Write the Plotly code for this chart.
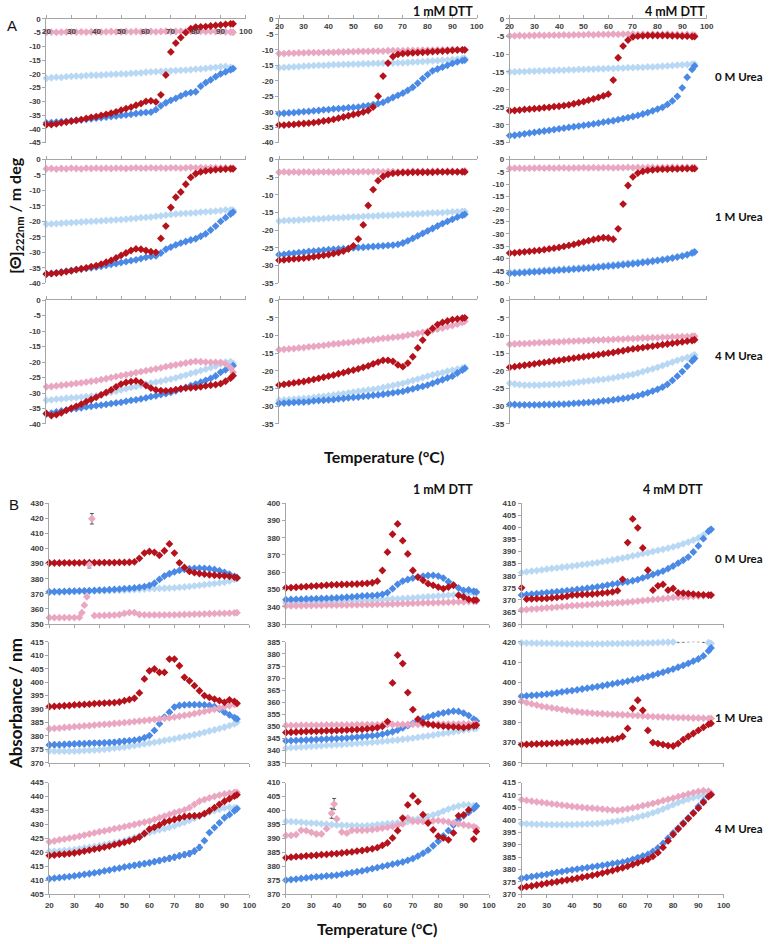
import plotly.graph_objects as go

W, H = 775, 944
T = [20,22,24,26,28,30,32,34,36,38,40,42,44,46,48,50,52,54,56,58,
     60,62,64,66,68,70,72,74,76,78,80,82,84,86,88,90,92,94,95]
X_TICKS = [20, 30, 40, 50, 60, 70, 80, 90, 100]

# ---------------- Panel A : CD [theta]222nm ----------------
A11_red = [-38.4,-38.4,-38.2,-37.8,-37.5,-37.2,-36.9,-36.6,-36.2,-35.8,-35.5,-35.1,-34.7,-34.3,-33.8,-33.2,-32.6,-32.1,-31.4,-30.8,-30.0,-29.8,-30.2,-27.6,-20.4,-12.0,-8.8,-6.8,-5.0,-3.6,-3.0,-2.9,-2.8,-2.6,-2.4,-2.2,-2.0,-1.8,-1.8]
A11_blue = [-37.8,-37.7,-37.5,-37.4,-37.3,-37.1,-36.9,-36.7,-36.5,-36.3,-36.1,-35.9,-35.7,-35.5,-35.3,-35.1,-34.9,-34.7,-34.4,-34.2,-34.0,-33.9,-33.0,-31.6,-30.5,-29.6,-28.9,-28.0,-27.2,-26.8,-26.5,-24.5,-23.2,-22.2,-21.0,-20.0,-19.3,-18.5,-18.1]
A11_lblue = [-21.6,-21.4,-21.2,-21.3,-21.0,-20.9,-20.8,-20.8,-20.6,-20.5,-20.5,-20.4,-20.3,-20.2,-20.1,-20.0,-20.0,-19.8,-19.7,-19.6,-19.4,-19.3,-19.2,-19.1,-19.0,-18.9,-18.8,-18.7,-18.6,-18.5,-18.3,-18.2,-18.0,-17.8,-17.6,-17.4,-17.3,-17.6,-17.9]
A11_pink = [-4.9,-4.8,-4.9,-4.8,-4.8,-4.7,-4.8,-4.7,-4.8,-4.7,-4.7,-4.8,-4.7,-4.6,-4.7,-4.7,-4.6,-4.7,-4.6,-4.7,-4.6,-4.6,-4.7,-4.6,-4.5,-4.6,-4.6,-4.5,-4.6,-4.5,-4.6,-4.5,-4.6,-4.5,-4.6,-4.6,-4.7,-4.8,-4.9]

A12_red = [-34.3,-34.3,-34.2,-34.1,-33.9,-33.8,-33.7,-33.5,-33.3,-33.0,-32.8,-32.5,-32.1,-31.7,-31.3,-30.9,-30.6,-30.1,-29.6,-28.5,-25.0,-18.5,-14.3,-12.2,-11.5,-11.2,-11.1,-11.0,-10.9,-10.8,-10.7,-10.6,-10.5,-10.4,-10.3,-10.2,-10.1,-10.0,-10.0]
A12_blue = [-30.6,-30.5,-30.4,-30.3,-30.1,-30.0,-29.9,-29.7,-29.6,-29.4,-29.3,-29.1,-29.0,-28.9,-28.7,-28.6,-28.5,-28.2,-28.0,-27.7,-27.4,-27.0,-26.2,-25.4,-24.7,-24.0,-23.1,-22.1,-20.8,-19.3,-18.0,-16.8,-16.2,-15.6,-15.0,-14.4,-13.9,-13.5,-13.3]
A12_lblue = [-15.8,-15.7,-15.6,-15.5,-15.4,-15.3,-15.2,-15.1,-15.0,-15.0,-14.9,-14.8,-14.8,-14.7,-14.7,-14.6,-14.6,-14.5,-14.5,-14.4,-14.4,-14.3,-14.3,-14.3,-14.2,-14.2,-14.1,-14.0,-13.9,-13.8,-13.7,-13.6,-13.5,-13.4,-13.3,-13.1,-13.0,-12.8,-12.8]
A12_pink = [-11.2,-11.2,-11.1,-11.1,-11.0,-11.0,-10.9,-10.9,-10.9,-10.8,-10.8,-10.8,-10.7,-10.7,-10.6,-10.6,-10.5,-10.5,-10.5,-10.4,-10.4,-10.4,-10.3,-10.3,-10.3,-10.3,-10.2,-10.2,-10.2,-10.1,-10.1,-10.1,-10.0,-10.0,-10.0,-9.9,-9.9,-10.0,-10.1]

A13_red = [-26.0,-25.9,-25.8,-25.6,-25.5,-25.4,-25.3,-25.1,-25.0,-24.8,-24.7,-24.5,-24.3,-24.0,-23.7,-23.4,-23.0,-22.6,-22.2,-21.8,-21.3,-17.3,-11.0,-7.7,-6.0,-5.1,-4.9,-4.8,-4.7,-4.7,-4.7,-4.7,-4.7,-4.8,-4.8,-4.9,-4.9,-5.0,-5.0]
A13_blue = [-33.0,-32.9,-32.7,-32.5,-32.3,-32.1,-31.9,-31.7,-31.5,-31.3,-31.1,-30.9,-30.7,-30.5,-30.3,-30.1,-29.9,-29.7,-29.5,-29.2,-29.0,-28.8,-28.5,-28.2,-27.9,-27.6,-27.3,-26.9,-26.5,-26.0,-25.5,-25.0,-24.2,-23.2,-21.9,-19.5,-16.5,-14.3,-13.3]
A13_lblue = [-15.0,-15.0,-14.9,-14.9,-14.8,-14.8,-14.7,-14.7,-14.6,-14.6,-14.5,-14.5,-14.4,-14.4,-14.3,-14.3,-14.2,-14.2,-14.1,-14.1,-14.0,-14.0,-13.9,-13.9,-13.8,-13.8,-13.7,-13.7,-13.6,-13.6,-13.5,-13.4,-13.3,-13.2,-13.1,-13.0,-12.9,-12.8,-12.8]
A13_pink = [-4.8,-4.8,-4.7,-4.8,-4.7,-4.7,-4.6,-4.7,-4.6,-4.6,-4.6,-4.5,-4.6,-4.5,-4.5,-4.5,-4.4,-4.5,-4.4,-4.4,-4.4,-4.3,-4.4,-4.3,-4.3,-4.3,-4.4,-4.3,-4.4,-4.3,-4.4,-4.4,-4.3,-4.4,-4.4,-4.5,-4.4,-4.5,-4.6]

A21_red = [-37.0,-36.9,-36.7,-36.5,-36.2,-36.0,-35.6,-35.3,-35.0,-34.6,-34.3,-33.8,-33.2,-32.6,-31.8,-31.0,-30.2,-29.4,-28.9,-29.0,-29.4,-29.8,-30.0,-25.5,-21.5,-15.5,-12.2,-10.5,-8.0,-5.8,-4.6,-4.0,-3.7,-3.5,-3.3,-3.2,-3.1,-3.0,-3.0]
A21_blue = [-37.0,-36.8,-36.6,-36.3,-36.1,-35.8,-35.6,-35.4,-35.2,-35.0,-34.8,-34.5,-34.2,-33.9,-33.6,-33.3,-33.0,-32.7,-32.4,-32.0,-31.6,-31.3,-31.1,-30.2,-29.0,-28.3,-27.6,-27.0,-26.5,-26.0,-25.6,-24.8,-24.0,-22.8,-21.5,-20.0,-18.8,-17.6,-17.0]
A21_lblue = [-20.9,-20.8,-20.7,-20.6,-20.5,-20.4,-20.3,-20.2,-20.1,-20.0,-19.9,-19.8,-19.7,-19.6,-19.5,-19.4,-19.3,-19.1,-19.0,-18.8,-18.7,-18.6,-18.4,-18.2,-18.0,-17.8,-17.6,-17.5,-17.4,-17.3,-17.2,-17.0,-16.9,-16.8,-16.7,-16.5,-16.3,-16.3,-16.4]
A21_pink = [-3.0,-2.9,-3.1,-2.9,-3.0,-2.8,-2.9,-3.0,-2.8,-2.9,-2.8,-2.9,-2.8,-2.9,-2.8,-2.8,-2.9,-2.8,-2.7,-2.8,-2.8,-2.7,-2.8,-2.7,-2.8,-2.7,-2.7,-2.8,-2.7,-2.6,-2.7,-2.6,-2.7,-2.6,-2.6,-2.7,-2.6,-2.7,-2.8]

A22_red = [-28.5,-28.4,-28.2,-28.1,-28.0,-27.9,-27.7,-27.5,-27.3,-27.1,-26.9,-26.6,-26.3,-25.9,-25.3,-24.4,-22.5,-18.5,-13.0,-8.5,-6.0,-4.8,-4.2,-3.9,-3.8,-3.7,-3.7,-3.6,-3.6,-3.6,-3.6,-3.6,-3.5,-3.5,-3.5,-3.5,-3.5,-3.5,-3.5]
A22_blue = [-26.9,-26.8,-26.6,-26.5,-26.3,-26.2,-26.0,-25.9,-25.8,-25.6,-25.5,-25.4,-25.3,-25.2,-25.1,-25.0,-24.9,-24.8,-24.7,-24.6,-24.5,-24.4,-24.3,-24.2,-24.0,-23.6,-23.0,-22.3,-21.6,-20.9,-20.2,-19.5,-18.8,-18.1,-17.5,-16.9,-16.3,-15.8,-15.5]
A22_lblue = [-17.4,-17.3,-17.2,-17.2,-17.1,-17.0,-16.9,-16.8,-16.8,-16.7,-16.6,-16.5,-16.5,-16.4,-16.3,-16.2,-16.2,-16.1,-16.0,-16.0,-15.9,-15.8,-15.8,-15.7,-15.6,-15.6,-15.5,-15.4,-15.4,-15.3,-15.2,-15.1,-15.1,-15.0,-14.9,-14.8,-14.8,-14.7,-14.7]
A22_pink = [-3.6,-3.5,-3.6,-3.5,-3.6,-3.5,-3.5,-3.6,-3.5,-3.5,-3.5,-3.6,-3.5,-3.5,-3.4,-3.5,-3.5,-3.4,-3.5,-3.4,-3.4,-3.5,-3.4,-3.4,-3.5,-3.4,-3.4,-3.3,-3.4,-3.3,-3.4,-3.3,-3.3,-3.4,-3.3,-3.3,-3.4,-3.3,-3.2]

A23_red = [-37.8,-37.7,-37.5,-37.3,-37.1,-36.9,-36.7,-36.4,-36.1,-35.8,-35.5,-35.1,-34.7,-34.3,-33.8,-33.3,-32.8,-32.3,-31.9,-31.6,-31.7,-32.2,-28.0,-18.0,-10.5,-7.0,-5.5,-4.8,-4.4,-4.2,-4.0,-3.9,-3.9,-3.8,-3.8,-3.7,-3.7,-3.7,-3.7]
A23_blue = [-46.0,-45.9,-45.8,-45.7,-45.5,-45.4,-45.3,-45.1,-45.0,-44.9,-44.7,-44.6,-44.5,-44.3,-44.2,-44.0,-43.9,-43.7,-43.5,-43.3,-43.1,-42.9,-42.7,-42.5,-42.3,-42.1,-41.9,-41.6,-41.4,-41.1,-40.8,-40.5,-40.2,-39.8,-39.4,-39.0,-38.5,-37.8,-37.4]
A23_lblue = [-45.6,-45.5,-45.4,-45.3,-45.1,-45.0,-44.9,-44.7,-44.6,-44.5,-44.3,-44.2,-44.1,-43.9,-43.8,-43.6,-43.5,-43.3,-43.1,-42.9,-42.7,-42.5,-42.3,-42.1,-41.9,-41.7,-41.5,-41.3,-41.0,-40.8,-40.5,-40.2,-39.9,-39.6,-39.2,-38.8,-38.3,-37.6,-37.2]
A23_pink = [-3.6,-3.5,-3.5,-3.6,-3.5,-3.5,-3.4,-3.5,-3.4,-3.5,-3.4,-3.4,-3.5,-3.4,-3.4,-3.3,-3.4,-3.3,-3.4,-3.3,-3.3,-3.4,-3.3,-3.3,-3.2,-3.3,-3.2,-3.3,-3.2,-3.2,-3.3,-3.2,-3.2,-3.1,-3.2,-3.2,-3.1,-3.2,-3.2]

A31_red = [-36.6,-37.3,-37.0,-36.4,-35.6,-34.9,-34.3,-33.6,-32.8,-32.1,-31.4,-30.6,-29.8,-29.0,-28.0,-27.1,-26.6,-26.3,-26.1,-26.5,-27.6,-28.4,-29.0,-29.2,-29.3,-29.2,-28.9,-28.6,-28.4,-28.3,-28.2,-28.0,-27.7,-27.5,-27.3,-27.0,-26.2,-25.2,-24.4]
A31_blue = [-36.8,-36.5,-36.1,-35.8,-35.5,-35.2,-35.0,-34.8,-34.5,-34.3,-34.1,-33.9,-33.7,-33.4,-33.2,-33.0,-32.7,-32.4,-32.2,-31.9,-31.6,-31.2,-30.9,-30.5,-30.2,-29.8,-29.3,-28.7,-28.2,-27.6,-27.1,-26.5,-25.9,-25.3,-24.5,-23.3,-22.5,-21.7,-21.2]
A31_lblue = [-32.3,-32.2,-32.0,-31.9,-31.7,-31.6,-31.5,-31.3,-31.2,-31.0,-30.9,-30.5,-30.1,-29.8,-29.4,-29.0,-28.6,-28.2,-27.9,-27.5,-27.1,-26.8,-26.5,-26.2,-25.8,-25.5,-25.1,-24.6,-24.2,-23.7,-23.3,-22.8,-22.3,-21.8,-21.3,-20.6,-20.0,-19.9,-20.4]
A31_pink = [-28.0,-27.9,-27.7,-27.5,-27.3,-27.1,-26.9,-26.7,-26.5,-26.2,-26.0,-25.7,-25.4,-25.0,-24.7,-24.4,-24.1,-23.8,-23.4,-23.1,-22.8,-22.5,-22.2,-21.9,-21.5,-21.2,-20.9,-20.6,-20.3,-20.0,-19.8,-19.9,-20.0,-20.1,-20.1,-20.1,-20.6,-21.8,-23.3]

A32_red = [-24.0,-23.8,-23.6,-23.4,-23.2,-23.0,-22.7,-22.4,-22.1,-21.8,-21.5,-21.2,-20.8,-20.5,-20.1,-19.8,-19.4,-19.0,-18.6,-18.0,-17.5,-17.0,-17.0,-17.3,-18.3,-18.8,-17.8,-16.0,-13.5,-11.3,-9.2,-8.0,-6.9,-6.3,-5.9,-5.5,-5.3,-5.1,-5.0]
A32_blue = [-29.2,-29.1,-29.0,-28.9,-28.8,-28.8,-28.7,-28.5,-28.4,-28.3,-28.2,-28.1,-27.9,-27.8,-27.6,-27.5,-27.4,-27.2,-27.1,-26.9,-26.8,-26.6,-26.4,-26.2,-26.0,-25.8,-25.4,-25.1,-24.7,-24.4,-24.0,-23.5,-23.0,-22.5,-22.0,-21.5,-20.6,-19.8,-19.3]
A32_lblue = [-28.3,-28.2,-28.1,-28.0,-27.9,-27.8,-27.7,-27.5,-27.3,-27.2,-27.0,-26.8,-26.6,-26.4,-26.2,-26.0,-25.8,-25.6,-25.4,-25.2,-25.0,-24.7,-24.4,-24.1,-23.8,-23.5,-23.1,-22.7,-22.3,-21.9,-21.5,-21.1,-20.8,-20.5,-20.1,-19.8,-19.5,-19.2,-19.0]
A32_pink = [-14.0,-13.9,-13.8,-13.7,-13.5,-13.4,-13.2,-13.1,-12.9,-12.8,-12.6,-12.4,-12.3,-12.1,-12.0,-11.8,-11.6,-11.5,-11.3,-11.2,-11.0,-10.8,-10.7,-10.5,-10.4,-10.2,-9.9,-9.7,-9.4,-9.1,-8.8,-8.5,-8.2,-7.9,-7.5,-7.2,-6.8,-6.3,-6.0]

A33_red = [-19.0,-18.8,-18.6,-18.4,-18.2,-18.0,-17.8,-17.6,-17.4,-17.2,-17.0,-16.8,-16.6,-16.4,-16.2,-16.0,-15.8,-15.6,-15.4,-15.2,-15.0,-14.8,-14.5,-14.3,-14.0,-13.8,-13.6,-13.4,-13.2,-13.0,-12.8,-12.6,-12.4,-12.2,-12.0,-11.8,-11.6,-11.4,-11.2]
A33_blue = [-29.5,-29.5,-29.6,-29.6,-29.6,-29.6,-29.6,-29.5,-29.5,-29.5,-29.4,-29.4,-29.3,-29.2,-29.1,-29.0,-28.9,-28.8,-28.7,-28.5,-28.4,-28.2,-28.0,-27.8,-27.6,-27.3,-27.0,-26.6,-26.2,-25.7,-25.2,-24.6,-23.8,-22.7,-21.5,-20.2,-18.7,-17.2,-16.5]
A33_lblue = [-23.5,-23.7,-23.9,-24.0,-24.0,-24.0,-24.0,-23.9,-23.9,-23.8,-23.8,-23.6,-23.5,-23.3,-23.2,-23.0,-22.8,-22.7,-22.5,-22.4,-22.2,-22.0,-21.7,-21.5,-21.2,-21.0,-20.6,-20.2,-19.8,-19.4,-19.0,-18.5,-18.0,-17.5,-17.0,-16.6,-16.2,-15.8,-15.5]
A33_pink = [-12.5,-12.4,-12.3,-12.3,-12.2,-12.1,-12.0,-12.0,-11.9,-11.8,-11.8,-11.7,-11.6,-11.6,-11.5,-11.5,-11.4,-11.3,-11.3,-11.2,-11.2,-11.1,-11.0,-11.0,-10.9,-10.9,-10.8,-10.7,-10.7,-10.6,-10.6,-10.5,-10.5,-10.4,-10.4,-10.3,-10.3,-10.2,-10.2]

# ---------------- Panel B : fluorescence max (nm) ----------------
B11_red = [390.4,390.4,390.4,390.5,390.5,390.5,390.5,390.6,390.6,390.6,390.6,390.7,390.7,390.7,390.8,390.8,390.9,391.2,393.5,397.0,398.0,397.5,395.5,398.5,403.0,397.0,390.5,387.5,384.8,384.0,383.4,383.0,382.6,382.3,382.1,381.9,381.6,381.0,380.5]
B11_blue = [371.3,371.4,371.5,371.6,371.7,371.8,371.9,372.0,372.1,372.2,372.4,372.5,372.7,372.9,373.1,373.4,373.6,373.9,374.3,374.8,375.5,377.0,379.5,381.8,383.3,384.5,385.5,386.2,386.6,386.9,387.0,386.9,386.6,386.1,385.3,384.2,383.0,381.5,380.8]
B11_lblue = [371.0,371.1,371.2,371.3,371.4,371.5,371.6,371.7,371.8,371.9,372.0,372.1,372.2,372.3,372.3,372.4,372.6,372.8,373.0,373.2,373.4,373.5,373.6,373.7,373.8,374.0,374.2,374.5,374.8,375.2,375.6,376.0,376.4,376.8,377.2,377.6,378.5,379.5,380.0]
B11_pink = [354.2,354.2,354.2,354.3,354.3,354.3,354.4,None,None,355.5,355.6,355.7,355.8,355.9,356.2,357.0,357.6,357.6,356.3,356.1,356.0,356.0,356.0,356.0,356.1,356.1,356.2,356.3,356.4,356.5,356.6,356.7,356.8,356.9,357.0,357.1,357.2,357.4,357.5]
B11_spike_T = [33, 34, 35, 36, 37]
B11_spike_pink = [357.5, 362.5, 368.0, 389.3, 419.7]
B11_spike_err = [None, None, None, 2.2, 3.5]

B12_red = [351.0,351.1,351.3,351.5,351.7,351.9,352.1,352.3,352.5,352.7,352.8,352.9,353.0,353.1,353.2,353.4,353.6,353.9,354.8,361.0,371.6,382.0,388.0,378.3,370.6,361.0,357.2,355.3,353.4,352.4,351.4,350.5,351.4,352.4,346.6,345.7,344.3,343.8,343.8]
B12_blue = [344.1,344.2,344.3,344.4,344.5,344.6,344.7,344.8,344.9,345.0,345.1,345.3,345.5,345.7,346.0,346.3,346.4,346.5,346.7,347.2,348.2,350.5,353.0,354.8,355.8,356.6,357.2,357.7,358.1,358.2,357.8,356.6,354.5,352.6,350.9,349.5,349.7,349.0,348.6]
B12_lblue = [342.4,342.5,342.6,342.7,342.8,342.8,342.9,343.0,343.1,343.1,343.2,343.3,343.4,343.5,343.6,343.7,343.8,343.9,344.0,344.2,344.3,344.5,344.6,344.8,345.0,345.1,345.4,345.6,345.8,346.0,346.3,346.5,346.7,346.9,347.1,347.3,347.6,347.9,348.0]
B12_pink = [340.5,340.5,340.6,340.6,340.7,340.7,340.8,340.8,340.9,340.9,340.9,341.0,341.0,341.1,341.1,341.2,341.2,341.3,341.4,341.4,341.5,341.6,341.7,341.8,341.9,342.0,342.1,342.2,342.3,342.3,342.4,342.5,342.6,342.7,342.8,342.9,343.0,343.1,343.2]

B13_red = [375.0,370.3,370.4,370.5,370.5,370.6,370.8,371.0,371.2,371.5,372.0,372.1,372.2,372.3,372.4,372.6,372.8,373.0,373.3,373.8,378.5,393.7,403.5,399.8,391.5,382.3,374.0,375.8,376.4,374.0,374.7,372.9,372.8,372.6,372.4,372.2,372.1,372.0,372.0]
B13_blue = [372.0,372.2,372.4,372.6,372.8,373.0,373.2,373.4,373.6,373.8,374.0,374.3,374.5,374.8,375.1,375.4,375.7,376.1,376.5,376.8,377.2,377.5,377.9,378.4,379.1,379.8,380.5,381.2,381.9,382.9,384.0,385.2,386.4,387.7,389.8,392.3,395.3,398.3,399.2]
B13_lblue = [381.3,381.6,381.9,382.1,382.4,382.7,383.0,383.2,383.5,383.7,384.0,384.3,384.6,384.8,385.1,385.4,385.8,386.1,386.5,386.9,387.3,387.7,388.2,388.6,389.1,389.5,390.0,390.5,390.9,391.4,391.9,392.5,393.2,393.9,394.7,395.6,396.8,398.3,399.2]
B13_pink = [365.8,366.0,366.2,366.3,366.5,366.7,366.8,367.0,367.2,367.4,367.6,367.7,367.8,368.0,368.1,368.3,368.4,368.5,368.7,368.8,368.9,369.1,369.3,369.5,369.7,369.9,370.1,370.3,370.5,370.7,371.0,371.1,371.2,371.3,371.5,371.6,371.7,371.9,372.0]

B21_red = [390.9,391.0,391.1,391.2,391.3,391.5,391.6,391.7,391.8,392.0,392.1,392.2,392.3,392.4,392.6,393.1,393.5,394.0,396.0,401.2,404.2,404.9,403.6,403.6,408.6,408.6,406.1,401.8,400.5,398.7,396.8,395.0,394.3,393.7,393.1,392.5,393.4,392.8,392.1]
B21_blue = [376.6,376.7,376.7,376.8,376.9,377.0,377.1,377.1,377.2,377.3,377.3,377.4,377.5,377.6,377.8,378.0,378.2,378.4,378.7,379.3,380.1,382.0,384.5,387.0,388.8,390.7,391.3,391.5,391.6,391.6,391.6,391.5,391.3,390.9,390.0,388.8,387.8,386.8,386.3]
B21_lblue = [374.4,374.3,374.3,374.3,374.3,374.3,374.4,374.5,374.6,374.7,374.8,375.0,375.2,375.4,375.6,375.8,376.1,376.4,376.7,377.0,377.3,377.6,377.9,378.3,378.6,378.9,379.3,379.7,380.0,380.4,380.8,381.3,381.8,382.2,382.7,383.2,383.8,384.5,385.1]
B21_pink = [382.6,382.8,382.9,383.1,383.2,383.4,383.5,383.7,383.8,384.0,384.2,384.3,384.4,384.6,384.7,384.9,385.1,385.3,385.5,385.7,385.9,386.1,386.3,386.5,386.7,387.0,387.3,387.6,387.9,388.3,388.7,389.1,389.5,389.9,390.3,390.8,391.2,391.7,391.9]
B21_blue_err = [0.9,0.9,0.9,0.9,0.9,0.9,0.9,0.9,0.9,0.9,0.9,0.9,0.9,0.9,0.9,0.9,0.3,0.3,0.3,0.3,0.3,0.3,0.3,0.3,0.8,0.8,0.8,0.8,0.8,0.8,0.8,0.8,0.8,0.8,0.8,0.8,0.8,0.8,0.8]
B21_lblue_err = [0.6,0.6,0.6,0.6,0.6,0.6,0.6,0.6,0.6,0.6,0.6,0.3,0.3,0.3,0.3,0.3,0.3,0.3,0.3,0.3,0.3,0.3,0.3,0.3,0.3,0.3,0.7,0.7,0.7,0.7,0.7,0.7,0.7,0.7,0.7,0.7,0.7,0.7,0.7]

B22_red = [347.5,347.6,347.7,347.8,347.9,348.0,348.0,348.1,348.2,348.2,348.3,348.4,348.5,348.6,348.7,348.8,349.0,349.2,349.5,350.0,352.0,368.0,379.5,376.0,364.0,357.0,353.0,351.5,351.0,350.6,350.3,350.1,349.9,349.8,349.7,349.5,349.8,350.2,350.5]
B22_blue = [344.0,344.1,344.2,344.3,344.4,344.5,344.6,344.7,344.8,344.9,345.0,345.1,345.2,345.4,345.6,345.8,346.0,346.2,346.4,346.8,347.3,347.8,348.5,349.4,350.3,351.3,352.3,353.2,354.0,354.6,355.2,355.6,356.0,356.3,356.2,355.5,354.5,353.0,352.3]
B22_lblue = [341.0,341.2,341.3,341.5,341.6,341.8,341.9,342.0,342.2,342.3,342.4,342.5,342.7,342.8,343.0,343.1,343.3,343.4,343.6,343.8,344.0,344.2,344.4,344.7,344.9,345.2,345.5,345.8,346.1,346.4,346.8,347.1,347.4,347.8,348.1,348.5,348.8,349.1,349.3]
B22_pink = [350.4,350.4,350.4,350.5,350.5,350.5,350.5,350.5,350.6,350.6,350.6,350.6,350.6,350.6,350.7,350.7,350.7,350.7,350.7,350.7,350.8,350.8,350.8,350.8,350.8,350.9,350.9,350.9,350.9,350.9,351.0,351.0,351.0,351.0,351.0,351.1,351.1,351.1,351.1]
B22_blue_err = [None]*30 + [0.8,0.8,0.8,0.8,0.8,0.8,0.8,None,None]

B23_red = [369.0,369.1,369.2,369.3,369.4,369.5,369.6,369.7,369.8,370.0,370.2,370.4,370.5,370.6,370.8,371.0,371.2,371.4,371.6,372.0,373.0,377.0,387.0,391.0,386.0,376.0,370.0,369.5,369.0,368.5,368.3,369.5,371.5,373.0,374.5,376.0,377.5,379.0,379.5]
B23_blue = [393.0,393.2,393.4,393.6,393.8,394.0,394.3,394.7,395.2,395.5,395.8,396.2,396.6,397.0,397.4,397.8,398.2,398.7,399.1,399.6,400.0,400.5,401.1,401.6,402.2,402.8,403.5,404.2,404.9,405.7,406.5,407.4,408.3,409.3,410.4,411.5,413.0,415.5,417.0]
B23_lblue = [419.5,419.4,419.4,419.3,419.3,419.2,419.2,419.1,419.1,419.0,419.0,419.0,419.0,419.0,419.0,419.0,419.0,419.1,419.1,419.1,419.2,419.2,419.3,419.3,419.4,419.4,419.5,419.6,419.7,419.8,419.9,420.1,420.3,420.5,420.6,420.5,420.2,419.6,419.2]
B23_pink = [390.5,389.8,389.2,388.6,388.0,387.6,387.2,386.8,386.4,386.0,385.6,385.3,385.0,384.8,384.6,384.4,384.3,384.1,384.0,383.9,383.8,383.7,383.5,383.4,383.2,383.0,382.9,382.8,382.7,382.6,382.5,382.4,382.4,382.3,382.2,382.2,382.1,382.0,382.0]
B23_lblue_err = [None]*31 + [0.5,0.5,0.5,0.5,0.5,0.5,0.5,0.5]

B31_red = [418.9,419.1,419.3,419.4,419.6,419.8,420.1,420.5,420.8,421.2,421.5,421.9,422.3,422.8,423.2,423.6,424.1,424.7,425.5,426.8,428.3,429.0,429.8,430.8,431.3,431.8,432.3,432.8,433.0,433.1,433.2,433.9,434.9,436.0,437.2,438.3,439.2,440.1,440.6]
B31_blue = [410.6,410.8,411.0,411.2,411.4,411.6,411.9,412.2,412.4,412.7,413.0,413.4,413.7,414.1,414.4,414.8,415.1,415.4,415.7,416.0,416.3,416.7,417.1,417.5,417.9,418.3,418.8,419.2,419.6,420.5,421.8,424.2,427.1,428.9,430.6,432.4,433.5,434.9,435.6]
B31_lblue = [420.3,420.4,420.5,420.7,420.8,421.0,421.3,421.6,421.8,422.1,422.4,422.8,423.1,423.5,423.8,424.2,424.8,425.3,425.9,426.5,427.1,427.6,428.1,428.5,429.0,429.5,430.2,430.8,431.5,432.2,433.0,433.7,434.4,435.0,435.4,435.9,436.1,436.0,435.9]
B31_pink = [423.8,424.1,424.5,424.8,425.1,425.4,425.8,426.2,426.6,427.0,427.4,427.7,428.1,428.5,428.8,429.2,429.6,430.0,430.4,430.8,431.2,431.8,432.4,433.0,433.6,434.2,434.7,435.2,436.0,437.2,438.3,438.9,439.5,440.0,440.5,440.9,441.2,441.5,441.5]
B31_red_err = [None]*17 + [0.8,0.8,0.8,0.8,0.8,0.8,0.8,None,0.9,0.9,0.9,0.9,0.9] + [None]*9
B31_blue_err = [None]*17 + [0.9,0.9,0.9,0.9,0.9,0.9,None,1.0,1.0,1.0,1.0,1.0,1.0,1.0] + [None]*8

B32_red = [383.1,383.3,383.5,383.6,383.8,383.9,384.0,384.2,384.3,384.5,384.6,384.8,385.0,385.2,385.5,385.7,386.0,386.3,386.7,387.5,388.4,390.2,392.8,397.3,402.0,405.2,403.2,398.5,395.5,393.1,390.8,390.2,389.5,392.0,398.1,398.4,400.2,389.8,392.5]
B32_blue = [375.1,375.3,375.5,375.7,375.9,376.1,376.3,376.4,376.6,376.7,376.9,377.2,377.5,377.8,378.1,378.4,378.8,379.2,379.6,380.0,380.4,380.8,381.2,381.6,382.2,382.8,383.7,384.7,385.8,387.4,389.0,390.9,392.8,394.8,396.7,398.1,399.3,400.6,401.6]
B32_lblue = [396.1,396.0,395.9,395.8,395.6,395.5,395.4,395.2,395.1,394.9,394.8,394.7,394.7,394.6,394.6,394.5,394.6,394.7,394.9,395.1,395.3,395.4,395.6,395.7,396.0,396.7,397.0,397.4,397.9,398.4,399.0,399.8,400.5,401.1,401.6,402.0,402.0,401.7,401.4]
B32_pink = [391.1,391.1,391.4,392.9,392.8,392.2,391.6,391.6,393.5,None,397.0,392.3,391.9,392.9,392.9,392.9,393.0,393.2,393.4,393.7,394.0,394.3,394.7,395.2,397.3,396.1,396.1,396.1,396.2,396.3,396.4,396.2,395.9,395.5,395.2,394.9,394.6,394.2,393.7]
B32_spike_T = [38, 39]
B32_spike_pink = [399.0, 402.3]
B32_spike_err = [1.8, 2.0]

B33_red = [372.7,373.1,373.4,373.8,374.1,374.5,374.8,375.1,375.5,375.8,376.1,376.5,376.9,377.3,377.7,378.1,378.6,379.1,379.6,380.2,380.7,381.3,382.0,382.7,383.4,384.1,385.3,386.8,388.9,391.5,394.1,396.3,398.4,400.5,402.6,404.7,407.0,409.3,410.1]
B33_blue = [376.5,376.8,377.2,377.5,377.8,378.1,378.5,378.9,379.2,379.6,379.9,380.2,380.5,380.8,381.1,381.4,381.7,382.0,382.4,382.7,383.0,383.5,384.1,384.8,385.5,386.1,387.3,388.7,390.5,392.6,394.7,396.7,398.8,400.8,402.9,405.4,407.6,409.5,410.1]
B33_lblue = [398.5,398.4,398.3,398.2,398.2,398.1,398.1,398.1,398.1,398.1,398.1,398.2,398.2,398.3,398.4,398.5,398.7,398.9,399.2,399.5,399.8,400.2,400.6,401.1,401.6,402.1,402.8,403.5,404.3,405.2,406.1,406.9,407.6,408.3,408.9,409.4,409.9,410.3,410.5]
B33_pink = [408.1,407.8,407.5,407.2,407.0,406.7,406.4,406.2,405.9,405.7,405.4,405.2,405.0,404.8,404.7,404.5,404.3,404.1,403.9,403.8,404.1,404.4,404.8,405.2,405.7,406.1,406.6,407.1,407.7,408.2,408.7,409.3,409.8,410.4,410.9,411.4,411.7,411.5,410.7]

# subplot definitions: name, panel, row, col, ymin, ymax, ystep, series
SUBPLOTS = [
    ('A11','A',0,0,-45,0,5,A11_red,A11_blue,A11_lblue,A11_pink),
    ('A12','A',0,1,-40,0,5,A12_red,A12_blue,A12_lblue,A12_pink),
    ('A13','A',0,2,-35,0,5,A13_red,A13_blue,A13_lblue,A13_pink),
    ('A21','A',1,0,-40,0,5,A21_red,A21_blue,A21_lblue,A21_pink),
    ('A22','A',1,1,-35,0,5,A22_red,A22_blue,A22_lblue,A22_pink),
    ('A23','A',1,2,-50,0,5,A23_red,A23_blue,A23_lblue,A23_pink),
    ('A31','A',2,0,-40,0,5,A31_red,A31_blue,A31_lblue,A31_pink),
    ('A32','A',2,1,-35,0,5,A32_red,A32_blue,A32_lblue,A32_pink),
    ('A33','A',2,2,-35,0,5,A33_red,A33_blue,A33_lblue,A33_pink),
    ('B11','B',0,0,350,430,10,B11_red,B11_blue,B11_lblue,B11_pink),
    ('B12','B',0,1,330,400,10,B12_red,B12_blue,B12_lblue,B12_pink),
    ('B13','B',0,2,360,410,5,B13_red,B13_blue,B13_lblue,B13_pink),
    ('B21','B',1,0,370,415,5,B21_red,B21_blue,B21_lblue,B21_pink),
    ('B22','B',1,1,335,385,5,B22_red,B22_blue,B22_lblue,B22_pink),
    ('B23','B',1,2,360,420,10,B23_red,B23_blue,B23_lblue,B23_pink),
    ('B31','B',2,0,405,445,5,B31_red,B31_blue,B31_lblue,B31_pink),
    ('B32','B',2,1,370,410,5,B32_red,B32_blue,B32_lblue,B32_pink),
    ('B33','B',2,2,370,415,5,B33_red,B33_blue,B33_lblue,B33_pink),
]
ERRS = {('B21','blue'):B21_blue_err, ('B21','lblue'):B21_lblue_err,
        ('B22','blue'):B22_blue_err, ('B23','lblue'):B23_lblue_err,
        ('B31','red'):B31_red_err, ('B31','blue'):B31_blue_err}
SPIKES = {'B11':(B11_spike_T,B11_spike_pink,B11_spike_err),
          'B32':(B32_spike_T,B32_spike_pink,B32_spike_err)}

COLORS = dict(red='#B5121B', blue='#4A8AE6', lblue='#B9D8F4', pink='#E9A7C1')
COLS = {'A':[(43,245),(279,480),(513,713)], 'B':[(46,249),(286,492),(525,730)]}
ROWS = {'A':[(15,140),(157,282),(299,424)], 'B':[(504,626),(644,766),(786,899)]}
A_XLABEL_Y = [28, 23, 23]   # pixel row of the in-plot x tick labels of panel A, per column

AXC = '#A6A6A6'
TICKF = dict(family='Liberation Sans', size=8, color='#404040', weight='bold')

fig = go.Figure()
layout = {}
ann = []
for k, (name, pan, r, c, lo, hi, st, red, blue, lblue, pink) in enumerate(SUBPLOTS, start=1):
    for s in (red, blue, lblue, pink):
        assert len(s) == len(T), name
    xs = 'x' if k == 1 else f'x{k}'
    ys = 'y' if k == 1 else f'y{k}'
    xk = 'xaxis' if k == 1 else f'xaxis{k}'
    yk = 'yaxis' if k == 1 else f'yaxis{k}'
    x0, x1 = COLS[pan][c]
    t0, t1 = ROWS[pan][r]
    for key, vals in (('lblue', lblue), ('blue', blue), ('pink', pink), ('red', red)):
        err = ERRS.get((name, key))
        tr = dict(x=T, y=vals, mode='markers', xaxis=xs, yaxis=ys, cliponaxis=False,
                  marker=dict(symbol='diamond', size=6, color=COLORS[key]),
                  showlegend=False, hoverinfo='skip')
        if err is not None:
            tr['error_y'] = dict(type='data', array=err, visible=True, color='#333333', thickness=0.6, width=1.5)
        fig.add_trace(go.Scatter(**tr))
    if name in SPIKES:
        st_T, st_v, st_e = SPIKES[name]
        fig.add_trace(go.Scatter(x=st_T, y=st_v, mode='markers', xaxis=xs, yaxis=ys, cliponaxis=False,
                                 marker=dict(symbol='diamond', size=6, color=COLORS['pink']),
                                 error_y=dict(type='data', array=st_e, visible=True, color='#333333', thickness=0.8, width=2),
                                 showlegend=False, hoverinfo='skip'))
    show_x = (pan == 'B' and r == 2)
    layout[xk] = dict(domain=[x0 / W, x1 / W], anchor=ys, range=[20, 100], tick0=20, dtick=10,
                      side='top' if pan == 'A' else 'bottom',
                      showticklabels=show_x, showline=True, linecolor=AXC, linewidth=1,
                      ticks='outside', ticklen=3, tickcolor=AXC, showgrid=False, zeroline=False,
                      tickfont=TICKF, fixedrange=True)
    tv = list(range(lo, hi + 1, st))
    layout[yk] = dict(domain=[1 - t1 / H, 1 - t0 / H], anchor=xs, range=[lo, hi],
                      tickvals=tv, ticktext=[str(v) for v in tv],
                      showline=True, linecolor=AXC, linewidth=1, ticks='outside', ticklen=3,
                      tickcolor=AXC, showgrid=False, zeroline=False, tickfont=TICKF, fixedrange=True)
    # panel A, top row: temperature labels sit just under the top (y = 0) axis line
    if pan == 'A' and r == 0:
        for xv in X_TICKS:
            ann.append(dict(text=str(xv), x=xv, xref=xs, y=1 - A_XLABEL_Y[c] / H, yref='paper',
                            showarrow=False, xanchor='center', yanchor='middle',
                            font=TICKF))

def px(x, y):
    return x / W, 1 - y / H

def add_text(text, x, y, size, xanchor='center', bold=True, angle=0, family='Lato'):
    ax, ay = px(x, y)
    ann.append(dict(text=text, x=ax, y=ay, xref='paper', yref='paper', showarrow=False,
                    xanchor=xanchor, yanchor='middle', textangle=angle,
                    font=dict(family=family, size=size, color='#111111',
                              weight='bold' if bold else 'normal')))

add_text('A', 8, 22, 15, bold=False, family='Liberation Sans')
add_text('B', 10, 505, 15, bold=False, family='Liberation Sans')
add_text('1 mM DTT', 478, 8, 12.5, xanchor='right')
add_text('4 mM DTT', 713, 8, 12.5, xanchor='right')
add_text('1 mM DTT', 478, 490, 12.5, xanchor='right')
add_text('4 mM DTT', 711, 490, 12.5, xanchor='right')
for lbl, yy in (('0 M Urea', 73), ('1 M Urea', 215), ('4 M Urea', 355),
                ('0 M Urea', 560), ('1 M Urea', 720), ('4 M Urea', 832)):
    add_text(lbl, 772, yy, 11.5, xanchor='right')
add_text('Temperature (\u00b0C)', 385, 457, 16)
add_text('Temperature (\u00b0C)', 378, 933, 16)
add_text('[\u0398]<sub>222nm</sub> / m deg', 12, 214, 16, angle=-90)
add_text('Absorbance / nm', 11, 706, 17, angle=-90)

fig.update_layout(width=W, height=H, margin=dict(l=0, r=0, t=0, b=0),
                  paper_bgcolor='white', plot_bgcolor='white',
                  showlegend=False, annotations=ann, **layout)
fig.write_html('out.html', config={'displayModeBar': False, 'staticPlot': True},
               post_script="document.body.style.margin='0px';document.body.style.overflow='hidden';")
